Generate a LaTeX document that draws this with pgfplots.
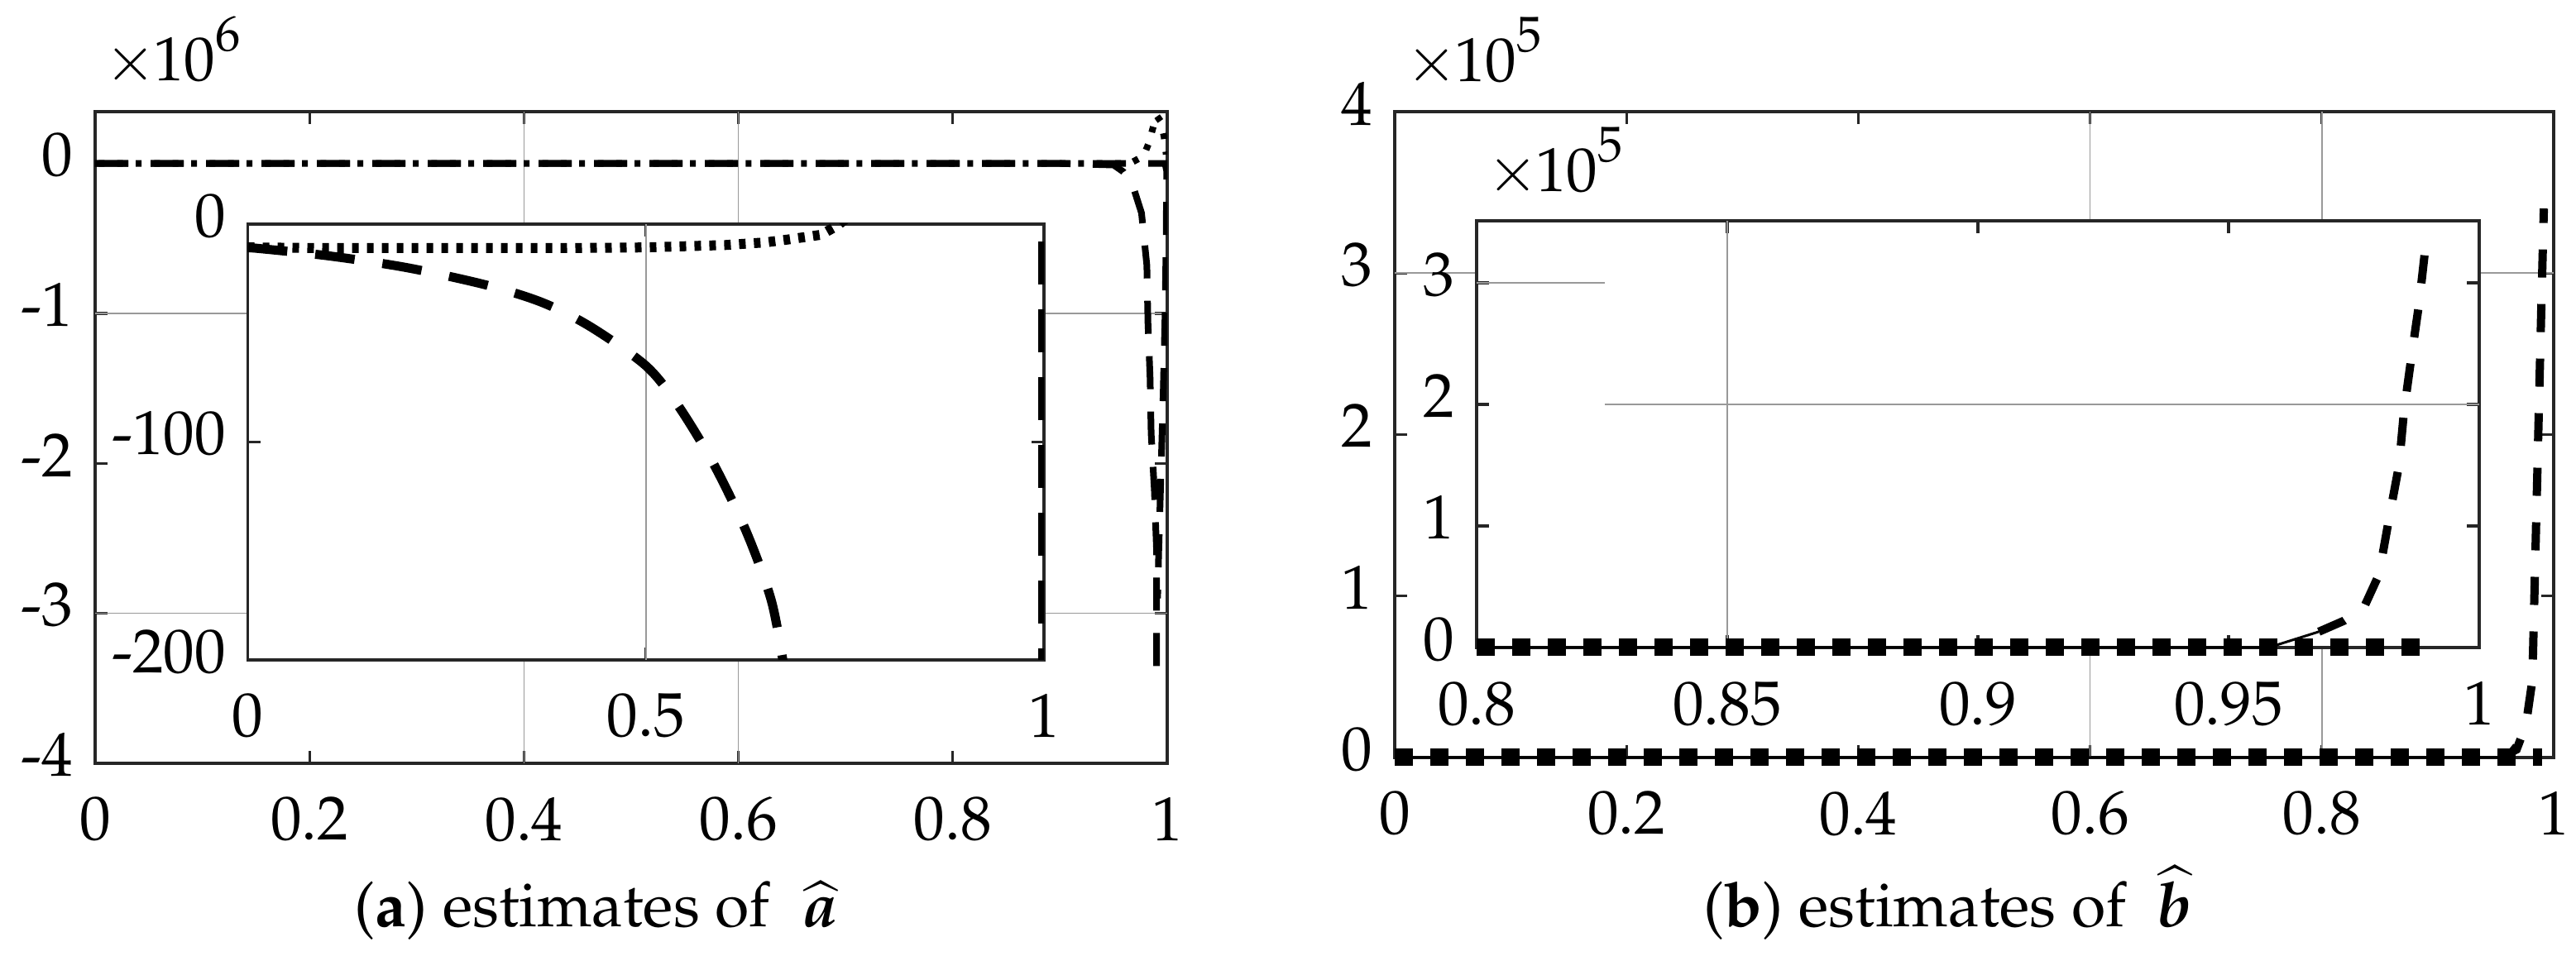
\documentclass[border=0pt]{standalone}
\usepackage[T1]{fontenc}
\usepackage{mathpazo}
\usepackage{bm}
\usepackage{pgfplots}
\pgfplotsset{compat=1.18}

\tikzset{gridline/.style={black!40, line width=0.22pt}}
\pgfplotsset{
  matlab/.style={
    scale only axis,
    axis line style={draw=black!85, line width=0.45pt},
    every tick/.style={draw=black!85, line width=0.45pt},
    tick align=inside,
    major tick length=0.75mm,
    xticklabel style={yshift=-0.75mm},
    yticklabel style={yshift=0.5mm},
    scaled ticks=false,
    /pgf/number format/fixed,
  },
  inset/.style={matlab, axis background/.style={fill=white}},
}

\begin{document}
\fontsize{10.7}{13}\selectfont
\begin{tikzpicture}[x=1mm,y=1mm]
\useasboundingbox (0,0) rectangle (155.7,57.8);

% ---- (a) main axis, values x 10^6
\begin{axis}[matlab, at={(5.75mm,11.65mm)}, anchor=south west,
  width=64.8mm, height=39.4mm,
  xmin=0, xmax=1, ymin=-4, ymax=0.346,
  xtick={0,0.2,0.4,0.6,0.8,1},
  ytick={-4,-3,-2,-1,0}, yticklabels={-4,-3,-2,-1,0}]
\draw[gridline] (axis cs:0.4,-4) -- (axis cs:0.4,0.346);
\draw[gridline] (axis cs:0.6,-4) -- (axis cs:0.6,0.346);
\draw[gridline] (axis cs:0,-1) -- (axis cs:1,-1);
\draw[gridline] (axis cs:0,-3) -- (axis cs:1,-3);
% right-edge branch
\addplot[black, line width=0.4mm, dash pattern=on 2.0mm off 1.35mm]
  coordinates {(0,0) (0.998,0) (0.9995,-0.05) (0.999,-0.5) (0.998,-1.0)
  (0.996,-1.6) (0.994,-2.1) (0.992,-2.6) (0.991,-2.9)};
% dashed
\addplot[black, line width=0.4mm, dash pattern=on 2.0mm off 1.35mm]
  coordinates {(0,0) (0.5,0) (0.9,0) (0.95,-0.01) (0.959,-0.055) (0.968,-0.15)
  (0.976,-0.33) (0.981,-0.68) (0.982,-1.06) (0.984,-1.43) (0.985,-1.8)
  (0.988,-2.18) (0.99,-2.57) (0.99,-2.94) (0.99,-3.47)};
% dotted
\addplot[black, line width=0.4mm, dash pattern=on 0.35mm off 0.767mm, dash phase=0.9mm]
  coordinates {(0,0) (0.5,0) (0.965,0) (0.978,0.05) (0.983,0.14) (0.986,0.22)
  (0.99,0.32) (0.994,0.28) (0.997,0.18) (0.999,0.06)};
\end{axis}

% ---- (a) inset
\begin{axis}[inset, at={(14.975mm,17.9mm)}, anchor=south west,
  width=48.125mm, height=26.35mm,
  xmin=0, xmax=1, ymin=-200, ymax=0,
  xtick={0,0.5,1},
  ytick={-200,-100,0}, yticklabels={-200,-100,0}]
\draw[gridline] (axis cs:0.5,-200) -- (axis cs:0.5,0);
\addplot[black, line width=0.55mm, dash pattern=on 2.6mm off 1.5mm]
  coordinates {(0.998,-8) (0.998,-220)};
\addplot[black, line width=0.55mm, dash pattern=on 2.4mm off 1.7mm, smooth]
  coordinates {(0,-10.7) (0.1,-14.5) (0.2,-20) (0.3,-28) (0.37,-36)
  (0.43,-47) (0.5,-65) (0.54,-83) (0.585,-110) (0.626,-141)
  (0.657,-172) (0.672,-200) (0.68,-220)};
\addplot[black, line width=0.6mm, dash pattern=on 0.4mm off 0.5mm]
  coordinates {(0,-10.7) (0.1,-11) (0.2,-11) (0.3,-11) (0.4,-11) (0.5,-10.7)
  (0.6,-9.6) (0.65,-8.4) (0.68,-7.0) (0.72,-4.9) (0.74,-0.8) (0.76,5)};
\end{axis}

% ---- (b) main axis, values x 10^5
\begin{axis}[matlab, at={(84.3mm,12.0mm)}, anchor=south west,
  width=70.05mm, height=39.05mm, clip=false,
  xmin=0, xmax=1, ymin=0, ymax=4,
  xtick={0,0.2,0.4,0.6,0.8,1}, ytick={0,1,2,3,4}]
\draw[gridline] (axis cs:0.6,0) -- (axis cs:0.6,4);
\draw[gridline] (axis cs:0.8,0) -- (axis cs:0.8,4);
\draw[gridline] (axis cs:0,3) -- (axis cs:1,3);
\addplot[black, line width=0.15mm]
  coordinates {(0,0) (0.957,0) (0.966,0.08)};
\addplot[black, line width=1.05mm, dash pattern=on 1.1mm off 1.05mm]
  coordinates {(0,0) (0.99,0)};
\addplot[black, line width=0.5mm, dash pattern=on 1.7mm off 1.6mm]
  coordinates {(0.955,0) (0.968,0.05) (0.976,0.2) (0.981,0.45) (0.982,0.6)
  (0.984,1.2) (0.986,1.8) (0.988,2.4) (0.9897,2.9) (0.9915,3.4)};
\end{axis}

% ---- (b) inset
\begin{axis}[inset, at={(89.25mm,18.65mm)}, anchor=south west,
  width=60.6mm, height=25.8mm, clip=false,
  xmin=0.8, xmax=1, ymin=0, ymax=3.51,
  xtick={0.8,0.85,0.9,0.95,1}, ytick={0,1,2,3},
  xticklabels={0.8,0.85,0.9,0.95,1}]
\draw[gridline] (axis cs:0.85,0) -- (axis cs:0.85,3.51);
\draw[gridline] (axis cs:0.8,3) -- (axis cs:0.8256,3);
\draw[gridline] (axis cs:0.8256,2) -- (axis cs:1,2);
\addplot[black, line width=0.15mm]
  coordinates {(0.8,0) (0.958,0) (0.968,0.13)};
\addplot[black, line width=1.05mm, dash pattern=on 1.1mm off 1.05mm]
  coordinates {(0.8,0) (0.9895,0)};
\addplot[black, line width=0.5mm, dash pattern=on 1.7mm off 1.6mm]
  coordinates {(0.968,0.13) (0.973,0.22) (0.977,0.33) (0.98,0.6) (0.982,1.06)
  (0.984,1.5) (0.985,1.95) (0.9865,2.4) (0.988,2.83) (0.9895,3.38)};
\end{axis}

% multipliers and captions
\node[anchor=base west, inner sep=0] at (6.25,52.9)
  {$\times$\kern-0.2mm10\raisebox{1.8mm}{\fontsize{8.6}{10}\selectfont 6}};
\node[anchor=base west, inner sep=0] at (84.9,52.85)
  {$\times$\kern-0.2mm10\raisebox{1.8mm}{\fontsize{8.6}{10}\selectfont 5}};
\node[anchor=base west, inner sep=0] at (89.8,46.2)
  {$\times$\kern-0.2mm10\raisebox{1.8mm}{\fontsize{8.6}{10}\selectfont 5}};
\node[anchor=base, inner sep=0] at (36.05,1.75)
  {(\textbf{a}) estimates of\ \ $\widehat{\bm{a}}$};
\node[anchor=base, inner sep=0] at (117.75,1.75)
  {(\textbf{b}) estimates of\ \ $\widehat{\bm{b}}$};
\end{tikzpicture}
\end{document}
